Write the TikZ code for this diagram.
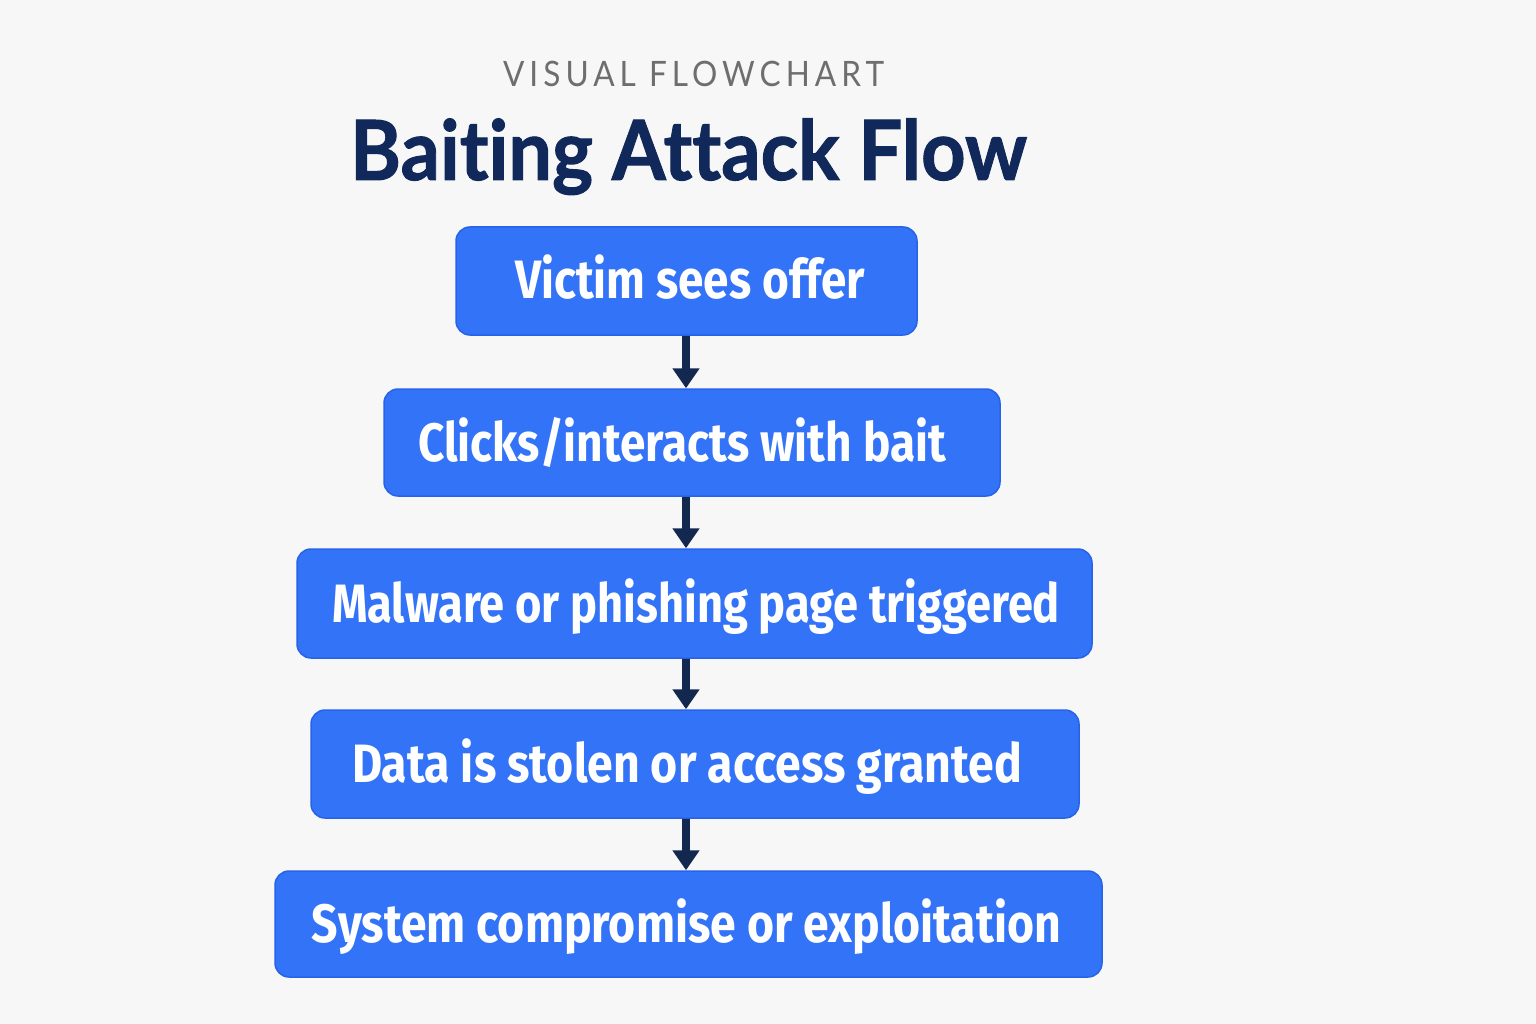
\documentclass[tikz,border=0pt]{standalone}
\usepackage{fontspec}
\usepackage{graphicx}
\usetikzlibrary{arrows.meta}
\newfontfamily\boxfont{Fira Sans}
\newfontfamily\titlefont[Ligatures=NoCommon,FakeBold=1.2]{Lato}
\newfontfamily\subfont[LetterSpace=16]{Lato}
\definecolor{bgc}{HTML}{F7F7F7}
\definecolor{boxfill}{HTML}{3373F7}
\definecolor{boxline}{HTML}{2663E8}
\definecolor{navy}{HTML}{11295A}
\definecolor{arrc}{HTML}{13284F}
\definecolor{subgray}{HTML}{6E6E6E}
\tikzset{
  stepbox/.style={draw=boxline, line width=1.5pt, fill=boxfill, rounded corners=14pt, inner sep=0pt},
  steptext/.style={anchor=base, text=white, inner sep=0pt, font=\boxfont\bfseries\fontsize{54}{60}\selectfont},
  arr/.style={draw=arrc, line width=8pt, -{Triangle[width=26pt,length=20pt]}}
}
\newcommand{\fitw}[2]{\resizebox{#1}{\height}{#2}}
\begin{document}
\begin{tikzpicture}[x=1pt,y=-1pt]
\fill[bgc] (0,0) rectangle (1536,1024);
\useasboundingbox (0,0) rectangle (1536,1024);
\node[anchor=base, text=subgray, inner sep=0pt, font=\subfont\fontsize{35}{40}\selectfont] (sub) at (693.5,87) {\fitw{381pt}{VISUAL FLOWCHART}};
\node[anchor=base, text=navy, inner sep=0pt, font=\titlefont\bfseries\fontsize{83}{90}\selectfont] (title) at (688.5,180) {\fitw{677pt}{Baiting Attack Flow}};
\node[stepbox, minimum width=461pt, minimum height=108pt] (b1) at (686.5,281) {};
\node[stepbox, minimum width=616pt, minimum height=107pt] (b2) at (692,442.5) {};
\node[stepbox, minimum width=795pt, minimum height=109pt] (b3) at (694.5,603.5) {};
\node[stepbox, minimum width=768pt, minimum height=108pt] (b4) at (695,764) {};
\node[stepbox, minimum width=827pt, minimum height=106pt] (b5) at (688.5,924) {};
\node[steptext] (t1) at (690,299) {\fitw{350pt}{Victim sees offer}};
\node[steptext] (t2) at (682,461) {\fitw{528pt}{Clicks/interacts with bait}};
\node[steptext] (t3) at (696,622) {\fitw{728pt}{Malware or phishing page triggered}};
\node[steptext] (t4) at (687,782) {\fitw{670pt}{Data is stolen or access granted}};
\node[steptext] (t5) at (686.5,942) {\fitw{749pt}{System compromise or exploitation}};
\coordinate (ax) at (686,0);
\draw[arr] (b1.south -| ax) -- (b2.north -| ax);
\draw[arr] (b2.south -| ax) -- (b3.north -| ax);
\draw[arr] (b3.south -| ax) -- (b4.north -| ax);
\draw[arr] (b4.south -| ax) -- (b5.north -| ax);
\end{tikzpicture}
\end{document}
